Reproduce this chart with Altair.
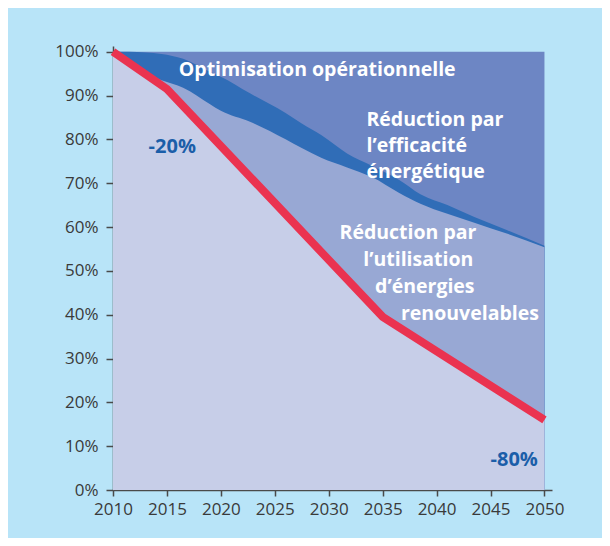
import altair as alt
import pandas as pd

# ---- data ----
years_band = [2010, 2011.5, 2013, 2014.5, 2016.5, 2019, 2020, 2022.7, 2026, 2027.5,
              2029.3, 2031.7, 2034, 2036.5, 2038.5, 2041, 2043.5, 2046.5, 2050]
top_edge = [100, 100, 99.8, 99.5, 98.4, 95.4, 94.3, 90.5, 86, 83.6,
            81, 76.8, 74, 70.8, 67.5, 65, 62.3, 59.3, 55.7]
lower_edge = [100, 97.5, 95, 93.5, 91.8, 88, 86.5, 84, 80, 78,
              75.8, 73.6, 71.4, 67.8, 65.3, 63, 61, 58.5, 55.4]

years_red = [2010, 2015, 2035, 2050]
red_path = [100, 91.5, 39.5, 16]

years_full = [2010, 2050]
full_level = [100, 100]

year_ticks = [2010, 2015, 2020, 2025, 2030, 2035, 2040, 2045, 2050]
pct_ticks = [0, 10, 20, 30, 40, 50, 60, 70, 80, 90, 100]

white_labels = ["Optimisation opérationnelle", "Réduction par", "l’efficacité", "énergétique",
                "Réduction par", "l’utilisation", "d’énergies", "renouvelables"]
white_x = [2016.1, 2033.5, 2033.5, 2033.5, 2031.0, 2033.2, 2034.3, 2036.7]
white_y = [94.4, 83.0, 77.1, 71.1, 57.2, 51.2, 45.0, 38.8]

blue_labels = ["-20%", "-80%"]
blue_x = [2013.3, 2045.0]
blue_y = [76.8, 5.4]

# ---- tables ----
band_df = pd.DataFrame({"year": years_band, "top": top_edge, "lower": lower_edge})
red_df = pd.DataFrame({"year": years_red, "value": red_path})
full_df = pd.DataFrame({"year": years_full, "value": full_level})
white_df = pd.DataFrame({"year": white_x, "value": white_y, "label": white_labels})
blue_df = pd.DataFrame({"year": blue_x, "value": blue_y, "label": blue_labels})

FONT = "Open Sans"
AX = "#4a4a4a"

xscale = alt.Scale(domain=[2010, 2050.7], nice=False, zero=False)
yscale = alt.Scale(domain=[0, 101.3], nice=False)

x_axis = alt.Axis(values=year_ticks, format="d", title=None, grid=False,
                  tickSize=6, labelPadding=5, labelFontSize=17, labelFont=FONT,
                  labelColor="#3a3a3a", domainColor=AX, tickColor=AX,
                  domainWidth=1.5, tickWidth=1.5, labelFlush=False)
y_axis = alt.Axis(values=pct_ticks, labelExpr="datum.value + '%'", title=None, grid=False,
                  tickSize=7, labelPadding=8, labelFontSize=17, labelFont=FONT,
                  labelColor="#3a3a3a", domainColor=AX, tickColor=AX,
                  domainWidth=1.5, tickWidth=1.5)

X = alt.X("year:Q", scale=xscale, axis=x_axis)

full_layer = alt.Chart(full_df).mark_area(color="#6d86c4", opacity=1).encode(
    x=X, y=alt.Y("value:Q", scale=yscale, axis=y_axis))

band_layer = alt.Chart(band_df).mark_area(color="#306db7", interpolate="monotone", opacity=1).encode(
    x=X, y=alt.Y("top:Q", scale=yscale, axis=y_axis))

renew_layer = alt.Chart(band_df).mark_area(color="#98a8d4", interpolate="monotone", opacity=1).encode(
    x=X, y=alt.Y("lower:Q", scale=yscale, axis=y_axis))

base_layer = alt.Chart(red_df).mark_area(color="#c7cee8", opacity=1).encode(
    x=X, y=alt.Y("value:Q", scale=yscale, axis=y_axis))

red_layer = alt.Chart(red_df).mark_line(color="#ea3350", strokeWidth=8, strokeCap="butt",
                                        strokeJoin="miter").encode(
    x=X, y=alt.Y("value:Q", scale=yscale, axis=y_axis))

white_text = alt.Chart(white_df).mark_text(
    align="left", baseline="alphabetic", font=FONT, fontWeight="bold",
    fontSize=19.5, color="white").encode(
    x=X, y=alt.Y("value:Q", scale=yscale, axis=y_axis), text="label:N")

blue_text = alt.Chart(blue_df).mark_text(
    align="left", baseline="alphabetic", font=FONT, fontWeight="bold",
    fontSize=20, color="#1b5ea9").encode(
    x=X, y=alt.Y("value:Q", scale=yscale, axis=y_axis), text="label:N")

chart = alt.layer(full_layer, band_layer, renew_layer, base_layer, red_layer,
                  white_text, blue_text).properties(
    width=439, height=444,
    autosize=alt.AutoSizeParams(type="none"),
    padding={"left": 105, "top": 38, "right": 50, "bottom": 48},
    background="#b8e4f8",
).configure_view(stroke=None)

chart.save("out.html", embed_options={"renderer": "svg", "actions": False})
